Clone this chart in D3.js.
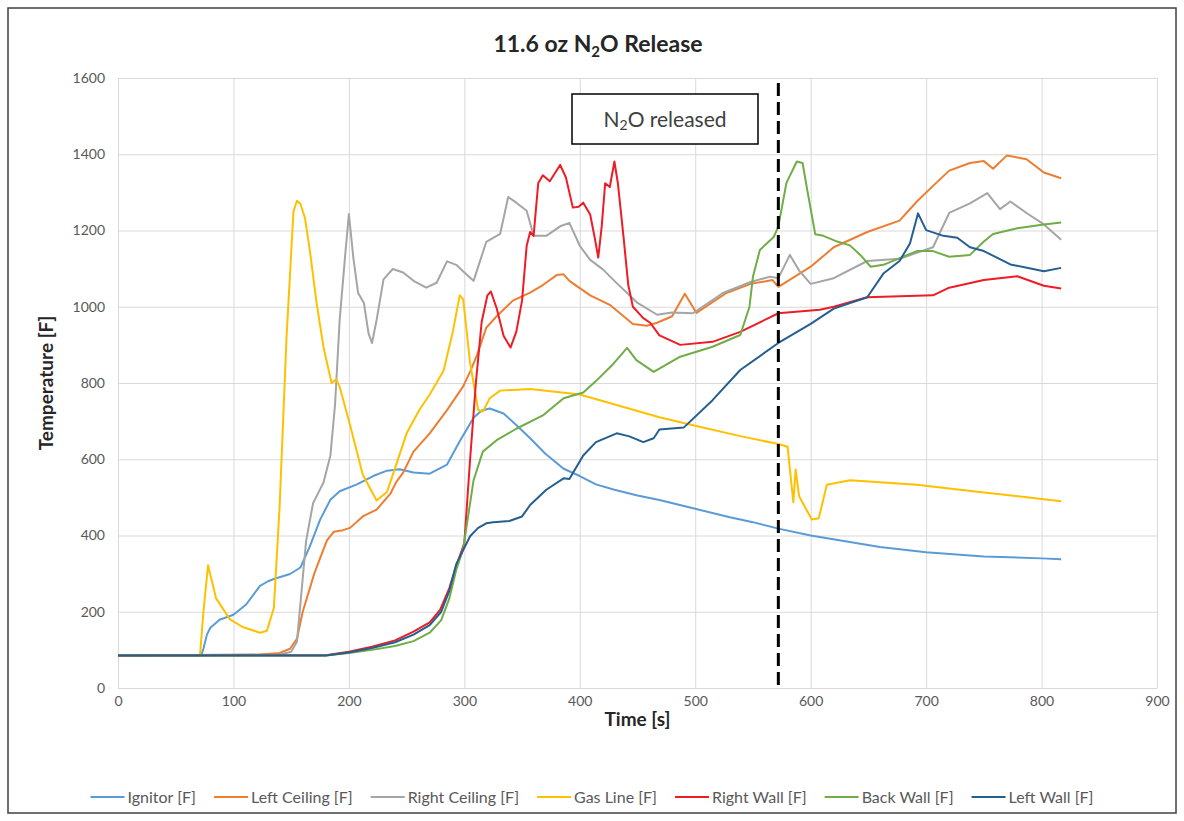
<!DOCTYPE html>
<html><head><meta charset="utf-8">
<script src="https://cdn.jsdelivr.net/npm/d3@7"></script>
<style>
body{margin:0;background:#fff;}
svg{display:block;}
text{font-family:Lato,"Open Sans","Liberation Sans",sans-serif;}
</style>
</head><body>
<svg id="chart" width="1184" height="821"></svg>
<script>
// ---------- DATA (time [s], temperature [F]) ----------
const seriesNames = ["Ignitor [F]","Left Ceiling [F]","Right Ceiling [F]","Gas Line [F]","Right Wall [F]","Back Wall [F]","Left Wall [F]"];

const ignitor = [[0,85],[72,85],[74,103],[77,140],[80,158],[88,179],[100,192],[111,219],[123,268],[130,280],[135,286],[149,299],[158,316],[166,370],[175,441],[184,494],[192,516],[207,534],[221,556],[233,570],[244,574],[256,565],[270,562],[285,586],[296,647],[308,709],[315,728],[322,733],[334,720],[345,690],[357,655],[370,615],[386,575],[400,556],[414,534],[430,520],[450,505],[469,493],[500,470],[530,448],[550,435],[572,418],[600,400],[630,385],[660,370],[700,356],[750,345],[800,340],[817,338]];

const leftCeiling = [[0,85],[120,87],[140,92],[149,103],[155,129],[160,200],[165,250],[170,300],[175,340],[181,387],[187,410],[195,414],[201,420],[212,450],[224,468],[236,510],[241,540],[247,565],[256,620],[270,668],[285,729],[299,791],[305,830],[311,873],[319,945],[328,975],[342,1016],[357,1037],[368,1057],[380,1083],[386,1085],[391,1068],[409,1030],[426,1005],[446,955],[458,950],[467,958],[480,975],[491,1034],[501,984],[527,1036],[548,1060],[567,1070],[572,1052],[579,1065],[600,1105],[620,1156],[649,1196],[677,1226],[692,1276],[706,1317],[720,1357],[738,1377],[750,1382],[758,1362],[770,1397],[787,1387],[802,1352],[817,1337]];

const rightCeiling = [[0,85],[140,88],[150,95],[155,121],[159,254],[163,387],[169,485],[178,539],[184,610],[188,743],[192,965],[197,1143],[200,1243],[204,1125],[208,1036],[213,1010],[217,930],[220,905],[224,965],[230,1072],[238,1099],[247,1090],[256,1068],[267,1050],[276,1063],[285,1119],[293,1110],[300,1090],[308,1068],[319,1170],[331,1191],[338,1288],[345,1273],[354,1252],[360,1186],[371,1186],[383,1211],[391,1220],[400,1160],[409,1123],[420,1098],[432,1062],[450,1010],[467,979],[480,985],[498,983],[524,1036],[548,1065],[565,1079],[572,1075],[582,1136],[590,1095],[600,1060],[620,1075],[649,1120],[677,1126],[706,1156],[720,1246],[738,1271],[753,1298],[764,1256],[773,1276],[787,1246],[802,1216],[817,1176]];

const gasLine = [[0,85],[71,85],[74,200],[78,322],[85,235],[97,180],[108,160],[123,145],[129,150],[135,210],[140,476],[146,921],[152,1250],[155,1278],[158,1270],[162,1232],[166,1152],[172,1010],[178,894],[185,800],[189,810],[192,790],[201,690],[212,560],[224,492],[233,514],[241,586],[250,668],[261,729],[270,770],[282,832],[290,934],[296,1030],[299,1020],[305,852],[312,729],[316,725],[322,760],[331,780],[357,784],[400,770],[469,710],[500,688],[540,660],[572,640],[580,633],[585,487],[587,573],[590,503],[601,442],[607,445],[614,533],[634,545],[692,533],[750,513],[817,490]];

const rightWall = [[0,85],[180,86],[200,95],[220,108],[240,125],[256,148],[270,172],[279,205],[287,262],[293,320],[300,380],[305,600],[310,800],[315,960],[320,1030],[323,1040],[328,996],[334,924],[340,893],[345,934],[350,1016],[354,1160],[357,1196],[360,1186],[364,1324],[368,1345],[374,1329],[383,1372],[388,1339],[394,1260],[399,1262],[403,1273],[409,1242],[413,1180],[416,1129],[419,1211],[422,1324],[426,1314],[430,1381],[433,1324],[438,1180],[442,1057],[446,1000],[455,970],[461,958],[469,925],[487,900],[515,908],[539,934],[572,983],[608,992],[620,1000],[649,1025],[706,1030],[720,1050],[750,1070],[779,1080],[802,1055],[817,1048]];

const backWall = [[0,85],[180,85],[200,92],[220,100],[240,110],[256,123],[270,145],[280,178],[287,235],[293,310],[299,365],[308,545],[316,620],[328,650],[345,680],[368,715],[386,760],[403,775],[414,805],[429,850],[441,892],[449,860],[464,829],[487,869],[515,895],[539,926],[547,1000],[550,1079],[556,1149],[568,1183],[572,1210],[579,1325],[588,1381],[593,1377],[597,1307],[604,1190],[611,1186],[623,1171],[634,1161],[643,1136],[652,1105],[663,1110],[692,1146],[706,1146],[720,1131],[738,1136],[750,1171],[758,1191],[779,1206],[802,1216],[817,1221]];

const leftWall = [[0,85],[180,85],[200,93],[220,105],[240,120],[256,140],[270,165],[280,200],[287,255],[293,325],[300,368],[305,398],[312,420],[319,432],[325,435],[339,438],[350,450],[357,480],[371,520],[386,550],[391,548],[403,610],[414,645],[432,668],[443,660],[455,645],[464,655],[469,678],[490,683],[515,755],[539,834],[572,905],[600,955],[620,995],[649,1025],[663,1087],[677,1120],[686,1166],[693,1245],[700,1201],[715,1186],[727,1181],[738,1156],[750,1146],[773,1111],[802,1093],[817,1102]];

const seriesData = [ignitor,leftCeiling,rightCeiling,gasLine,rightWall,backWall,leftWall];
const xTicks = [0,100,200,300,400,500,600,700,800,900];
const yTicks = [0,200,400,600,800,1000,1200,1400,1600];
const releaseTime = 572;

// ---------- STYLE ----------
const colors = ["#5B9BD5","#ED7D31","#A5A5A5","#FFC000","#EE1C24","#70AD47","#255E91"];
const W = 1184, H = 821;
const plot = {left:118, right:1157, top:78, bottom:688};

const svg = d3.select("#chart");
svg.append("rect").attr("width",W).attr("height",H).attr("fill","#fff");
svg.append("rect").attr("x",8).attr("y",8).attr("width",1168).attr("height",805)
  .attr("fill","none").attr("stroke","#404040").attr("stroke-width",1.5);

const x = d3.scaleLinear().domain([0,900]).range([plot.left,plot.right]);
const y = d3.scaleLinear().domain([0,1600]).range([plot.bottom,plot.top]);

// gridlines
const gx = svg.append("g").attr("transform",`translate(0,${plot.bottom})`)
  .call(d3.axisBottom(x).tickValues(xTicks).tickSize(-(plot.bottom-plot.top)).tickFormat(""));
gx.select(".domain").remove();
gx.selectAll("line").attr("stroke","#d9d9d9").attr("stroke-width",1);
const gy = svg.append("g").attr("transform",`translate(${plot.left},0)`)
  .call(d3.axisLeft(y).tickValues(yTicks).tickSize(-(plot.right-plot.left)).tickFormat(""));
gy.select(".domain").remove();
gy.selectAll("line").attr("stroke","#d9d9d9").attr("stroke-width",1);

// axis labels
const ax = svg.append("g").attr("transform",`translate(0,${plot.bottom})`)
  .call(d3.axisBottom(x).tickValues(xTicks).tickSize(0).tickPadding(8).tickFormat(d3.format("d")));
ax.select(".domain").remove();
ax.selectAll("text").attr("font-size",14).attr("fill","#595959").attr("font-family","Lato,'Open Sans',sans-serif");
const ay = svg.append("g").attr("transform",`translate(${plot.left},0)`)
  .call(d3.axisLeft(y).tickValues(yTicks).tickSize(0).tickPadding(13).tickFormat(d3.format("d")));
ay.select(".domain").remove();
ay.selectAll("text").attr("font-size",14).attr("fill","#595959").attr("font-family","Lato,'Open Sans',sans-serif");

// lines
const line = d3.line().x(d=>x(d[0])).y(d=>y(d[1]));
seriesData.forEach((s,i)=>{
  svg.append("path").datum(s).attr("d",line).attr("fill","none")
    .attr("stroke",colors[i]).attr("stroke-width",2).attr("stroke-linejoin","round");
});

// release marker
svg.append("line").attr("x1",x(releaseTime)).attr("x2",x(releaseTime))
  .attr("y1",83).attr("y2",plot.bottom)
  .attr("stroke","#000").attr("stroke-width",3).attr("stroke-dasharray","13,6");

// annotation box
svg.append("rect").attr("x",572).attr("y",94).attr("width",186).attr("height",50)
  .attr("fill","#fff").attr("stroke","#000").attr("stroke-width",1.5);
const at = svg.append("text").attr("x",665).attr("y",127).attr("text-anchor","middle")
  .attr("font-size",21).attr("fill","#404040");
at.append("tspan").text("N");
at.append("tspan").text("2").attr("font-size",14).attr("dy",3);
at.append("tspan").text("O released").attr("dy",-3);

// title
const tt = svg.append("text").attr("x",598).attr("y",52).attr("text-anchor","middle")
  .attr("font-size",23).attr("font-weight","bold").attr("fill","#262626");
tt.append("tspan").text("11.6 oz N");
tt.append("tspan").text("2").attr("font-size",15).attr("dy",5);
tt.append("tspan").text("O Release").attr("dy",-5);

// axis titles
svg.append("text").attr("x",(plot.left+plot.right)/2).attr("y",726).attr("text-anchor","middle")
  .attr("font-size",19).attr("font-weight","bold").attr("fill","#262626").text("Time [s]");
svg.append("text").attr("transform",`translate(53,${(plot.top+plot.bottom)/2}) rotate(-90)`)
  .attr("text-anchor","middle").attr("font-size",19).attr("font-weight","bold").attr("fill","#262626")
  .text("Temperature [F]");

// legend
const lg = svg.append("g");
let cx = 0;
seriesNames.forEach((n,i)=>{
  const g = lg.append("g").attr("transform",`translate(${cx},0)`);
  g.append("line").attr("x1",0).attr("x2",34).attr("y1",0).attr("y2",0)
    .attr("stroke",colors[i]).attr("stroke-width",2);
  const t = g.append("text").attr("x",37).attr("y",5.5).attr("font-size",16).attr("fill","#595959").text(n);
  const w = t.node().getComputedTextLength();
  cx += 37 + w + 18;
});
const total = cx - 18;
lg.attr("transform",`translate(${592 - total/2},797)`);
</script>
</body></html>
